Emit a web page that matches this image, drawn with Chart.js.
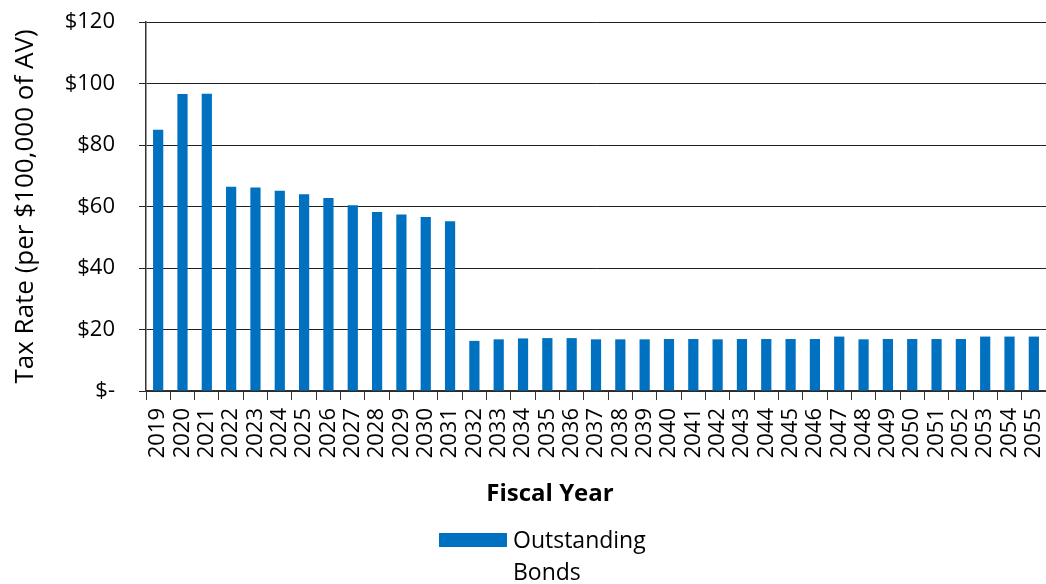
<!DOCTYPE html>
<html>
<head>
<meta charset="utf-8">
<script src="https://cdn.jsdelivr.net/npm/chart.js@4"></script>
<style>
  body { margin: 0; background: #fff; }
  #wrap { position: relative; width: 1046px; height: 584px; }
  #legend {
    position: absolute; left: 439px; top: 523px;
    font-family: "Open Sans", sans-serif; font-size: 23px; color: #000;
    display: flex; align-items: flex-start;
  }
  #legend .box { width: 68px; height: 14px; background: #0070c0; margin-top: 10px; margin-right: 6px; }
  #legend .txt { line-height: 32px; }
</style>
</head>
<body>
<div id="wrap">
  <canvas id="taxChart" width="1046" height="584"></canvas>
  <div id="legend"><div class="box"></div><div class="txt">Outstanding<br>Bonds</div></div>
</div>
<script>
// fiscal years 2019..2055
const years = ['2019', '2020', '2021', '2022', '2023', '2024', '2025', '2026', '2027', '2028',
    '2029', '2030', '2031', '2032', '2033', '2034', '2035', '2036', '2037', '2038', '2039',
    '2040', '2041', '2042', '2043', '2044', '2045', '2046', '2047', '2048', '2049', '2050',
    '2051', '2052', '2053', '2054', '2055'];

// tax rate per $100,000 of AV
const outstandingBonds = [85.0, 96.6, 96.7, 66.4, 66.2, 65.1, 64.0, 62.8, 60.4, 58.2,
    57.4, 56.6, 55.2, 16.3, 16.8, 17.1, 17.2, 17.2, 16.8, 16.8, 16.8,
    16.9, 16.9, 16.8, 16.9, 16.9, 16.9, 16.9, 17.7, 16.8, 16.9, 16.9,
    16.9, 16.9, 17.7, 17.7, 17.7];

const fontFamily = '"Open Sans", sans-serif';

// x axis title sits a bit left of the plot centre in the original, so draw it by hand
const xTitlePlugin = {
    id: 'xTitle',
    afterDraw(chart) {
        const ctx = chart.ctx;
        ctx.save();
        ctx.font = 'bold 24px ' + fontFamily;
        ctx.fillStyle = '#000';
        ctx.textAlign = 'center';
        ctx.textBaseline = 'middle';
        ctx.fillText('Fiscal Year', 550, 494);
        ctx.restore();
    }
};

window.taxChart = new Chart(document.getElementById('taxChart'), {
    type: 'bar',
    data: {
        labels: years,
        datasets: [{
            label: 'Outstanding Bonds',
            data: outstandingBonds,
            backgroundColor: '#0070c0',
            categoryPercentage: 1,
            barPercentage: 0.42
        }]
    },
    plugins: [xTitlePlugin],
    options: {
        responsive: false,
        animation: false,
        layout: { padding: { top: 22, right: 0, bottom: 76, left: 10 } },
        plugins: {
            legend: { display: false },
            tooltip: { enabled: false }
        },
        scales: {
            x: {
                afterFit: scale => {
                    scale.height = 117;
                    scale.paddingLeft = 0;
                    scale.paddingRight = 0;
                },
                grid: {
                    offset: true,
                    drawOnChartArea: false,
                    color: '#333',
                    tickLength: 9
                },
                border: { color: '#333', width: 1.5 },
                ticks: {
                    minRotation: 90,
                    maxRotation: 90,
                    autoSkip: false,
                    padding: 8,
                    color: '#000',
                    font: { family: fontFamily, size: 22 }
                },
                title: { display: false }
            },
            y: {
                min: 0,
                max: 120,
                afterFit: scale => {
                    scale.width = 136;
                    scale.paddingTop = 0;
                    scale.paddingBottom = 0;
                },
                ticks: {
                    stepSize: 20,
                    padding: 24,
                    color: '#000',
                    font: { family: fontFamily, size: 22 },
                    callback: v => v === 0 ? '$-' : '$' + v
                },
                grid: {
                    color: '#222',
                    lineWidth: 1,
                    tickLength: 7
                },
                border: { color: '#333', width: 1.5 },
                title: {
                    display: true,
                    text: 'Tax Rate (per $100,000 of AV)',
                    color: '#000',
                    padding: { top: 0, bottom: 0 },
                    font: { family: fontFamily, size: 26 }
                }
            }
        }
    }
});
</script>
</body>
</html>
